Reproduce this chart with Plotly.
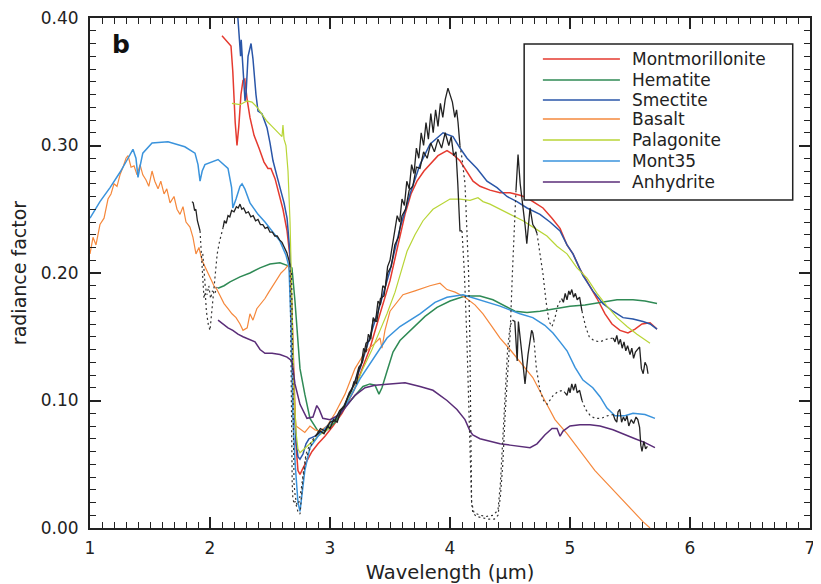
import plotly.graph_objects as go

# ---------------- data (wavelength um, radiance factor) ----------------
montmorillonite = [(2.1,0.386),(2.15,0.381),(2.175,0.378),(2.19,0.358),(2.2,0.335),(2.21,0.318),(2.225,0.300),(2.24,0.315),(2.258,0.340),(2.275,0.351),(2.29,0.352),(2.308,0.337),(2.333,0.322),(2.367,0.308),(2.408,0.298),(2.45,0.287),(2.483,0.282),(2.508,0.282),(2.542,0.274),(2.575,0.262),(2.608,0.250),(2.642,0.233),(2.667,0.212),(2.683,0.170),(2.7,0.110),(2.717,0.065),(2.733,0.045),(2.75,0.042),(2.775,0.047),(2.808,0.053),(2.85,0.060),(2.9,0.066),(2.958,0.072),(3.025,0.080),(3.1,0.090),(3.2,0.108),(3.267,0.125),(3.333,0.141),(3.417,0.168),(3.5,0.194),(3.567,0.222),(3.625,0.246),(3.675,0.262),(3.725,0.272),(3.783,0.280),(3.833,0.285),(3.9,0.292),(3.975,0.296),(4.025,0.293),(4.083,0.288),(4.142,0.279),(4.192,0.272),(4.25,0.268),(4.333,0.265),(4.417,0.263),(4.5,0.263),(4.583,0.261),(4.642,0.259),(4.708,0.255),(4.775,0.251),(4.85,0.243),(4.917,0.235),(4.975,0.222),(5.025,0.215),(5.083,0.203),(5.167,0.190),(5.225,0.180),(5.292,0.168),(5.35,0.160),(5.417,0.155),(5.483,0.153),(5.542,0.156),(5.6,0.160),(5.667,0.161),(5.725,0.156)]

hematite = [(2.067,0.188),(2.117,0.190),(2.167,0.193),(2.25,0.197),(2.333,0.200),(2.417,0.204),(2.5,0.207),(2.583,0.208),(2.642,0.206),(2.683,0.204),(2.708,0.178),(2.75,0.125),(2.79,0.105),(2.833,0.086),(2.9,0.076),(2.95,0.075),(3.0,0.079),(3.042,0.083),(3.125,0.095),(3.208,0.104),(3.275,0.111),(3.333,0.113),(3.375,0.112),(3.408,0.105),(3.433,0.110),(3.475,0.123),(3.525,0.138),(3.583,0.147),(3.692,0.157),(3.792,0.166),(3.892,0.173),(4.0,0.178),(4.125,0.182),(4.25,0.182),(4.358,0.179),(4.458,0.174),(4.542,0.170),(4.642,0.169),(4.75,0.170),(4.875,0.172),(5.0,0.174),(5.125,0.175),(5.25,0.177),(5.392,0.179),(5.525,0.179),(5.625,0.178),(5.725,0.176)]

smectite = [(2.225,0.410),(2.235,0.395),(2.25,0.376),(2.255,0.370),(2.26,0.383),(2.267,0.372),(2.292,0.335),(2.3,0.340),(2.317,0.370),(2.342,0.380),(2.358,0.368),(2.383,0.340),(2.4,0.327),(2.433,0.325),(2.475,0.314),(2.5,0.302),(2.525,0.288),(2.558,0.276),(2.583,0.267),(2.617,0.255),(2.642,0.243),(2.667,0.215),(2.683,0.160),(2.7,0.100),(2.717,0.068),(2.733,0.056),(2.75,0.054),(2.775,0.058),(2.8,0.066),(2.825,0.070),(2.875,0.072),(2.933,0.076),(3.0,0.080),(3.083,0.090),(3.167,0.105),(3.25,0.125),(3.333,0.150),(3.417,0.175),(3.5,0.202),(3.583,0.235),(3.667,0.262),(3.75,0.285),(3.833,0.301),(3.942,0.310),(4.025,0.307),(4.083,0.298),(4.142,0.290),(4.225,0.282),(4.308,0.272),(4.392,0.267),(4.475,0.260),(4.558,0.256),(4.642,0.251),(4.75,0.246),(4.833,0.240),(4.917,0.233),(4.975,0.222),(5.025,0.215),(5.108,0.198),(5.19,0.186),(5.275,0.176),(5.358,0.170),(5.442,0.165),(5.525,0.164),(5.608,0.162),(5.667,0.160),(5.725,0.156)]

basalt = [(1.0,0.215),(1.025,0.228),(1.05,0.222),(1.083,0.238),(1.117,0.243),(1.15,0.258),(1.175,0.262),(1.2,0.270),(1.225,0.268),(1.25,0.277),(1.275,0.283),(1.3,0.290),(1.317,0.292),(1.342,0.283),(1.367,0.284),(1.392,0.277),(1.417,0.285),(1.44,0.277),(1.467,0.273),(1.49,0.268),(1.517,0.280),(1.54,0.272),(1.567,0.266),(1.59,0.272),(1.617,0.262),(1.64,0.266),(1.667,0.255),(1.7,0.260),(1.725,0.250),(1.75,0.246),(1.775,0.252),(1.8,0.240),(1.833,0.236),(1.858,0.228),(1.883,0.215),(1.908,0.220),(1.933,0.210),(1.958,0.205),(1.983,0.200),(2.008,0.196),(2.033,0.190),(2.058,0.187),(2.083,0.182),(2.117,0.176),(2.15,0.172),(2.183,0.168),(2.217,0.165),(2.25,0.160),(2.275,0.155),(2.31,0.157),(2.333,0.168),(2.358,0.163),(2.39,0.172),(2.425,0.176),(2.458,0.180),(2.49,0.185),(2.525,0.190),(2.558,0.195),(2.592,0.200),(2.625,0.203),(2.65,0.206),(2.667,0.200),(2.683,0.150),(2.7,0.100),(2.717,0.080),(2.75,0.078),(2.79,0.075),(2.833,0.080),(2.875,0.077),(2.917,0.076),(2.975,0.080),(3.042,0.090),(3.125,0.105),(3.208,0.125),(3.292,0.138),(3.375,0.145),(3.417,0.149),(3.433,0.141),(3.458,0.155),(3.5,0.170),(3.558,0.177),(3.608,0.183),(3.708,0.186),(3.833,0.190),(3.917,0.192),(3.975,0.187),(4.042,0.185),(4.125,0.181),(4.208,0.175),(4.275,0.168),(4.35,0.158),(4.417,0.149),(4.5,0.140),(4.583,0.130),(4.69,0.118),(4.79,0.100),(4.875,0.085),(4.975,0.074),(5.083,0.061),(5.208,0.045),(5.308,0.035),(5.417,0.024),(5.525,0.013),(5.608,0.005),(5.667,0.000)]

palagonite = [(2.183,0.333),(2.25,0.332),(2.308,0.335),(2.35,0.334),(2.392,0.330),(2.433,0.325),(2.475,0.319),(2.517,0.315),(2.558,0.311),(2.6,0.307),(2.608,0.316),(2.617,0.305),(2.633,0.300),(2.65,0.280),(2.667,0.240),(2.683,0.170),(2.7,0.110),(2.717,0.075),(2.733,0.062),(2.75,0.059),(2.783,0.062),(2.833,0.066),(2.9,0.072),(2.975,0.077),(3.042,0.085),(3.125,0.097),(3.208,0.110),(3.275,0.125),(3.35,0.140),(3.417,0.155),(3.475,0.168),(3.542,0.185),(3.583,0.199),(3.642,0.217),(3.708,0.230),(3.775,0.241),(3.858,0.250),(3.942,0.255),(4.0,0.258),(4.083,0.258),(4.167,0.257),(4.233,0.259),(4.275,0.256),(4.333,0.254),(4.417,0.250),(4.517,0.245),(4.608,0.241),(4.708,0.235),(4.808,0.229),(4.892,0.221),(4.975,0.215),(5.058,0.204),(5.142,0.196),(5.225,0.184),(5.308,0.174),(5.392,0.165),(5.475,0.158),(5.558,0.152),(5.667,0.145)]

mont35 = [(1.0,0.243),(1.083,0.256),(1.167,0.267),(1.25,0.279),(1.317,0.290),(1.358,0.297),(1.383,0.290),(1.4,0.275),(1.42,0.285),(1.44,0.294),(1.517,0.302),(1.65,0.303),(1.79,0.299),(1.875,0.294),(1.9,0.285),(1.917,0.272),(1.935,0.280),(1.958,0.285),(2.067,0.289),(2.15,0.282),(2.18,0.267),(2.19,0.251),(2.217,0.258),(2.25,0.268),(2.267,0.270),(2.29,0.266),(2.333,0.255),(2.4,0.246),(2.458,0.240),(2.517,0.233),(2.583,0.225),(2.633,0.214),(2.658,0.205),(2.675,0.160),(2.69,0.090),(2.71,0.050),(2.733,0.020),(2.75,0.013),(2.767,0.025),(2.79,0.045),(2.833,0.063),(2.9,0.072),(2.958,0.078),(3.025,0.085),(3.125,0.095),(3.25,0.117),(3.375,0.135),(3.475,0.149),(3.583,0.158),(3.75,0.168),(3.875,0.177),(3.975,0.181),(4.108,0.183),(4.25,0.179),(4.417,0.174),(4.583,0.168),(4.69,0.165),(4.79,0.159),(4.858,0.153),(4.917,0.146),(4.975,0.139),(5.042,0.126),(5.108,0.116),(5.19,0.110),(5.25,0.103),(5.308,0.094),(5.375,0.088),(5.458,0.088),(5.525,0.090),(5.625,0.089),(5.708,0.086)]

anhydrite = [(2.067,0.163),(2.108,0.160),(2.15,0.157),(2.19,0.155),(2.233,0.152),(2.275,0.150),(2.333,0.148),(2.375,0.146),(2.417,0.140),(2.458,0.137),(2.517,0.137),(2.583,0.136),(2.642,0.134),(2.683,0.131),(2.708,0.113),(2.75,0.097),(2.808,0.086),(2.858,0.087),(2.89,0.096),(2.91,0.093),(2.94,0.086),(3.0,0.085),(3.083,0.089),(3.142,0.096),(3.208,0.104),(3.292,0.110),(3.375,0.112),(3.5,0.113),(3.625,0.114),(3.75,0.111),(3.858,0.108),(3.975,0.100),(4.058,0.093),(4.125,0.085),(4.167,0.076),(4.19,0.073),(4.25,0.070),(4.333,0.068),(4.417,0.066),(4.5,0.065),(4.583,0.064),(4.667,0.063),(4.725,0.066),(4.79,0.073),(4.85,0.078),(4.892,0.078),(4.917,0.072),(4.942,0.076),(5.0,0.080),(5.083,0.081),(5.167,0.081),(5.25,0.080),(5.358,0.077),(5.458,0.073),(5.542,0.070),(5.625,0.067),(5.708,0.063)]

# observed spectra (black): solid parts and dotted (interpolated) parts
obs_a_solid_1 = [(1.85,0.256),(1.86,0.255),(1.872,0.249),(1.882,0.250),(1.895,0.241),(1.906,0.236),(1.917,0.233)]
obs_a_dot_1 = [(1.917,0.233),(1.93,0.21),(1.94,0.19),(1.95,0.18),(1.96,0.185),(1.97,0.17),(1.985,0.16),(2.0,0.155),(2.01,0.165),(2.025,0.18),(2.04,0.2),(2.06,0.215),(2.08,0.225),(2.1,0.232),(2.11,0.236)]
obs_b_dot_1 = [(1.94,0.215),(1.95,0.2),(1.96,0.19),(1.975,0.183),(1.99,0.19),(2.005,0.18),(2.02,0.186),(2.04,0.184),(2.06,0.189)]
obs_a_solid_2 = [(2.11,0.236),(2.12,0.241),(2.135,0.239),(2.15,0.245),(2.165,0.244),(2.18,0.249),(2.2,0.248),(2.22,0.252),(2.235,0.251),(2.25,0.254),(2.265,0.250),(2.28,0.251),(2.3,0.247),(2.32,0.248),(2.34,0.244),(2.36,0.245),(2.38,0.241),(2.4,0.242),(2.42,0.238),(2.44,0.238),(2.46,0.235),(2.48,0.236),(2.5,0.232),(2.52,0.232),(2.54,0.229),(2.56,0.229),(2.58,0.226),(2.6,0.224),(2.62,0.220),(2.64,0.216),(2.655,0.211),(2.667,0.206)]
obs_a_dot_2 = [(2.667,0.206),(2.67,0.17),(2.673,0.13),(2.677,0.09),(2.68,0.06),(2.685,0.035),(2.69,0.024),(2.7,0.019),(2.71,0.021),(2.72,0.018),(2.735,0.012),(2.75,0.011),(2.765,0.025),(2.775,0.039),(2.8,0.055),(2.82,0.06),(2.85,0.066),(2.88,0.072)]
obs_b_dot_2 = [(2.68,0.2),(2.685,0.15),(2.69,0.1),(2.695,0.06),(2.7,0.035),(2.71,0.025),(2.725,0.018),(2.74,0.02),(2.76,0.03),(2.78,0.045),(2.8,0.058),(2.83,0.065),(2.86,0.07),(2.88,0.073)]
obs_a_solid_3 = [(2.88,0.072),(2.92,0.076),(2.95,0.074),(2.98,0.080),(3.0,0.078),(3.03,0.085),(3.06,0.083),(3.09,0.092),(3.12,0.095),(3.15,0.103),(3.18,0.108),(3.2,0.115),(3.22,0.113),(3.24,0.124),(3.26,0.128),(3.28,0.141),(3.3,0.138),(3.32,0.152),(3.34,0.148),(3.36,0.165),(3.38,0.162),(3.4,0.178),(3.42,0.175),(3.44,0.190),(3.46,0.188),(3.48,0.205),(3.5,0.210),(3.52,0.222),(3.54,0.232),(3.56,0.245),(3.58,0.240),(3.6,0.258),(3.62,0.253),(3.64,0.272),(3.66,0.266),(3.68,0.285),(3.7,0.278),(3.72,0.298),(3.74,0.290),(3.76,0.310),(3.78,0.300),(3.8,0.318),(3.82,0.305),(3.84,0.325),(3.86,0.310),(3.88,0.328),(3.9,0.315),(3.92,0.333),(3.94,0.322),(3.96,0.336),(3.983,0.345),(4.0,0.340),(4.02,0.334),(4.04,0.322),(4.055,0.328),(4.067,0.318),(4.083,0.300)]
obs_a_dot_3 = [(4.083,0.300),(4.1,0.29),(4.125,0.27),(4.14,0.24),(4.155,0.2),(4.165,0.15),(4.17,0.1),(4.175,0.05),(4.18,0.02),(4.19,0.012),(4.22,0.009),(4.27,0.008),(4.32,0.007),(4.37,0.007),(4.4,0.01),(4.42,0.025),(4.44,0.05),(4.46,0.09),(4.48,0.12),(4.5,0.15),(4.52,0.2),(4.54,0.24),(4.55,0.265)]
obs_a_solid_4 = [(4.55,0.265),(4.567,0.293),(4.585,0.270),(4.6,0.259),(4.625,0.238),(4.64,0.223),(4.655,0.240),(4.667,0.251),(4.69,0.238),(4.71,0.235),(4.725,0.231)]
obs_a_dot_4 = [(4.725,0.231),(4.75,0.215),(4.775,0.199),(4.8,0.178),(4.825,0.162),(4.85,0.158),(4.875,0.165),(4.9,0.175),(4.93,0.180)]
obs_a_solid_5 = [(4.93,0.180),(4.945,0.177),(4.96,0.184),(4.975,0.179),(4.99,0.186),(5.0,0.183),(5.015,0.187),(5.03,0.181),(5.045,0.184),(5.06,0.179),(5.08,0.181),(5.1,0.170)]
obs_a_dot_5 = [(5.1,0.170),(5.13,0.158),(5.16,0.150),(5.2,0.147),(5.25,0.146),(5.3,0.148),(5.36,0.149)]
obs_a_solid_6 = [(5.36,0.149),(5.375,0.146),(5.39,0.151),(5.405,0.144),(5.42,0.148),(5.435,0.141),(5.45,0.146),(5.465,0.139),(5.48,0.143),(5.5,0.136),(5.515,0.141),(5.53,0.133),(5.545,0.138),(5.56,0.140),(5.58,0.142),(5.595,0.125),(5.61,0.121),(5.625,0.130),(5.64,0.127),(5.65,0.121)]
obs_b_solid_3 = [(2.88,0.072),(2.92,0.078),(2.96,0.076),(3.0,0.083),(3.04,0.084),(3.08,0.092),(3.12,0.096),(3.16,0.106),(3.2,0.112),(3.24,0.126),(3.27,0.130),(3.3,0.145),(3.33,0.147),(3.36,0.163),(3.39,0.162),(3.42,0.180),(3.45,0.182),(3.48,0.200),(3.51,0.205),(3.54,0.222),(3.57,0.228),(3.6,0.245),(3.63,0.250),(3.66,0.265),(3.69,0.268),(3.72,0.283),(3.75,0.282),(3.78,0.295),(3.81,0.290),(3.84,0.302),(3.87,0.295),(3.9,0.305),(3.93,0.298),(3.96,0.310),(3.99,0.300),(4.01,0.307),(4.03,0.292),(4.05,0.295),(4.065,0.270),(4.075,0.245),(4.083,0.233),(4.1,0.233)]
obs_b_dot_3 = [(4.1,0.233),(4.12,0.2),(4.14,0.15),(4.155,0.1),(4.17,0.05),(4.18,0.02),(4.2,0.012),(4.25,0.01),(4.3,0.009),(4.36,0.01),(4.4,0.014),(4.42,0.035),(4.44,0.07),(4.46,0.11),(4.48,0.14),(4.5,0.158),(4.52,0.163)]
obs_b_solid_4 = [(4.52,0.163),(4.54,0.162),(4.56,0.131),(4.57,0.162),(4.6,0.136),(4.625,0.113),(4.65,0.136),(4.68,0.155),(4.69,0.153),(4.7,0.147)]
obs_b_dot_4 = [(4.7,0.147),(4.72,0.125),(4.75,0.108),(4.78,0.100),(4.81,0.097),(4.86,0.104),(4.9,0.107),(4.94,0.108),(4.96,0.106)]
obs_b_solid_5 = [(4.96,0.106),(4.975,0.104),(4.99,0.110),(5.0,0.106),(5.015,0.113),(5.03,0.108),(5.045,0.113),(5.06,0.106),(5.08,0.108),(5.1,0.100)]
obs_b_dot_5 = [(5.1,0.100),(5.13,0.093),(5.17,0.088),(5.21,0.086),(5.26,0.086),(5.31,0.088),(5.36,0.089)]
obs_b_solid_6 = [(5.36,0.089),(5.375,0.085),(5.39,0.083),(5.4,0.091),(5.415,0.093),(5.43,0.083),(5.445,0.087),(5.46,0.084),(5.475,0.088),(5.49,0.080),(5.51,0.085),(5.53,0.082),(5.55,0.087),(5.565,0.085),(5.58,0.079),(5.59,0.065),(5.6,0.060),(5.615,0.068),(5.63,0.062),(5.645,0.064)]

x_ticks = [1, 2, 3, 4, 5, 6, 7]
y_ticks = [0.0, 0.1, 0.2, 0.3, 0.4]

# ---------------- figure ----------------
FONT = "DejaVu Sans"
INK = "#222222"

def xs(pts):
    return [p[0] for p in pts]

def ys(pts):
    return [p[1] for p in pts]

def join(segments):
    X, Y = [], []
    for seg in segments:
        X += xs(seg) + [None]
        Y += ys(seg) + [None]
    return X, Y

series = [
    ("Montmorillonite", montmorillonite, "#e53a2f", 1.5),
    ("Hematite", hematite, "#2f8a55", 1.5),
    ("Smectite", smectite, "#2a56a8", 1.5),
    ("Basalt", basalt, "#f5883c", 1.2),
    ("Palagonite", palagonite, "#b8d536", 1.2),
    ("Mont35", mont35, "#3a93dc", 1.5),
    ("Anhydrite", anhydrite, "#5a2d78", 1.5),
]

fig = go.Figure()
for name, pts, color, w in series:
    fig.add_trace(go.Scatter(x=xs(pts), y=ys(pts), mode="lines", name=name,
                             showlegend=False, line=dict(color=color, width=w)))

sx, sy = join([obs_a_solid_1, obs_a_solid_2, obs_a_solid_3, obs_a_solid_4, obs_a_solid_5, obs_a_solid_6,
               obs_b_solid_3, obs_b_solid_4, obs_b_solid_5, obs_b_solid_6])
dx, dy = join([obs_a_dot_1, obs_b_dot_1, obs_a_dot_2, obs_b_dot_2, obs_a_dot_3, obs_a_dot_4, obs_a_dot_5,
               obs_b_dot_3, obs_b_dot_4, obs_b_dot_5])
fig.add_trace(go.Scatter(x=dx, y=dy, mode="lines", showlegend=False, connectgaps=False,
                         line=dict(color="#333333", width=1.2, dash="2px,3px")))
fig.add_trace(go.Scatter(x=sx, y=sy, mode="lines", showlegend=False, connectgaps=False,
                         line=dict(color=INK, width=1.3)))

# legend box drawn in paper coordinates
LEG_X0, LEG_X1, LEG_Y0, LEG_Y1 = 0.603, 0.976, 0.643, 0.949
LINE_X0, LINE_X1, TEXT_X = 0.629, 0.736, 0.752
ROW_Y = [0.9196, 0.8784, 0.8392, 0.8020, 0.7608, 0.7196, 0.6784]
fig.add_shape(type="rect", xref="paper", yref="paper", x0=LEG_X0, x1=LEG_X1, y0=LEG_Y0, y1=LEG_Y1,
              line=dict(color=INK, width=1.5), fillcolor="white", layer="above")
for (name, _, color, w), ry in zip(series, ROW_Y):
    fig.add_shape(type="line", xref="paper", yref="paper", x0=LINE_X0, x1=LINE_X1, y0=ry, y1=ry,
                  line=dict(color=color, width=1.5), layer="above")
    fig.add_annotation(xref="paper", yref="paper", x=TEXT_X, y=ry, text=name, showarrow=False,
                       xanchor="left", yanchor="middle", borderpad=0,
                       font=dict(family=FONT, size=17, color=INK))

fig.add_annotation(x=1.17, y=0.379, text="<b>b</b>", showarrow=False, xanchor="left",
                   font=dict(family=FONT, size=25, color="#111"))

axis_common = dict(showline=True, linewidth=2, linecolor=INK, mirror="ticks",
                   ticks="inside", ticklen=11, tickwidth=1.6, tickcolor=INK,
                   showgrid=False, zeroline=False, ticklabeloverflow="allow",
                   tickfont=dict(family=FONT, size=17, color=INK))

fig.update_xaxes(range=[1, 7], tickvals=x_ticks, ticktext=[str(v) for v in x_ticks],
                 ticklabelstandoff=4,
                 minor=dict(ticks="inside", dtick=0.1, ticklen=6, tickwidth=1.3, tickcolor=INK),
                 title=dict(text="Wavelength (µm)", font=dict(family=FONT, size=19.5, color=INK), standoff=9),
                 **axis_common)
fig.update_yaxes(range=[0, 0.4], tickvals=y_ticks, ticktext=["%.2f" % v for v in y_ticks],
                 ticklabelstandoff=6,
                 minor=dict(ticks="inside", dtick=0.01, ticklen=6, tickwidth=1.3, tickcolor=INK),
                 title=dict(text="radiance factor", font=dict(family=FONT, size=19, color=INK), standoff=11),
                 **axis_common)

fig.update_layout(
    width=813, height=576,
    margin=dict(l=82, r=11, t=10, b=56, autoexpand=False),
    paper_bgcolor="white", plot_bgcolor="white",
    font=dict(family=FONT, size=17, color=INK),
    showlegend=False,
)

fig.write_html("out.html")
